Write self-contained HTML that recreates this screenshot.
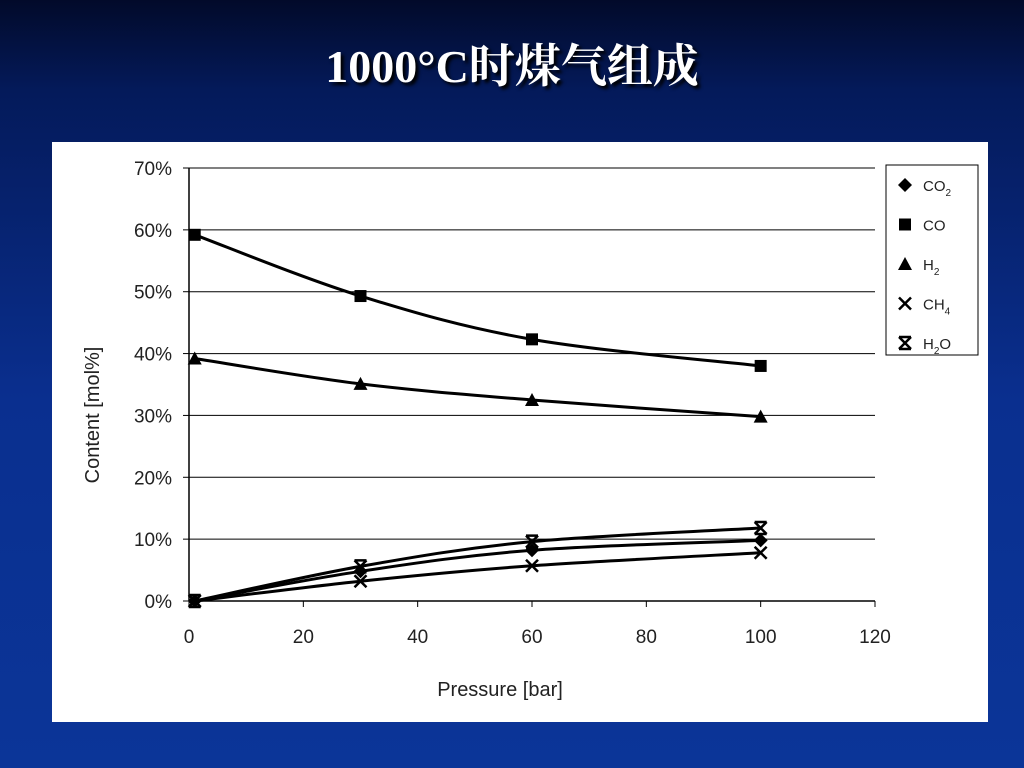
<!DOCTYPE html>
<html><head><meta charset="utf-8">
<style>
html,body{margin:0;padding:0;width:1024px;height:768px;overflow:hidden}
body{background:linear-gradient(180deg,#020a2a 0px,#041a5a 90px,#0a2f8f 400px,#0b3598 768px);font-family:"Liberation Sans",sans-serif}
#title{position:absolute;left:0;top:30px;width:1024px;text-align:center;color:#fff;font:bold 46px "Liberation Serif","Noto Serif CJK SC",serif;text-shadow:3px 3px 3px #000}
#panel{position:absolute;left:52px;top:142px;width:936px;height:580px;background:#fff}
</style></head><body>
<div id="title">1000°C时煤气组成</div>
<div id="panel"></div>
<svg id="chart" width="1024" height="768" style="position:absolute;left:0;top:0"></svg>
<script>
const xs=[1,30,60,100];
const co2=[0,4.8,8.2,9.8];
const co=[59.2,49.3,42.3,38];
const h2=[39.2,35.1,32.5,29.8];
const ch4=[0,3.2,5.7,7.8];
const h2o=[0,5.6,9.6,11.8];
const yTicks=[0,10,20,30,40,50,60,70];
const xTicks=[0,20,40,60,80,100,120];
const NS="http://www.w3.org/2000/svg";
const svg=document.getElementById('chart');
const X=v=>189+v*(875-189)/120;
const Y=v=>601-v*(601-168)/70;
function mk(t,a,p){const e=document.createElementNS(NS,t);for(const k in a)e.setAttribute(k,a[k]);(p||svg).appendChild(e);return e;}
// grid
yTicks.forEach(t=>{
 const g=mk('line',{x1:189,x2:875,y1:Y(t),y2:Y(t),stroke:'#000','stroke-width':t===0?1.5:1});
 
 
 const l=mk('text',{x:172,y:Y(t)+7,'text-anchor':'end','font-size':19,fill:'#222'});l.textContent=t+'%';
 
 
 mk('line',{x1:183,x2:189,y1:Y(t),y2:Y(t),stroke:'#000'});
});
mk('line',{x1:189,x2:189,y1:168,y2:601,stroke:'#000','stroke-width':1.5});
xTicks.forEach(t=>{
 mk('line',{x1:X(t),x2:X(t),y1:601,y2:607,stroke:'#000'});
 const l=mk('text',{x:X(t),y:643,'text-anchor':'middle','font-size':19,fill:'#222'});l.textContent=t;
 
 
});
let t=mk('text',{x:500,y:696,'text-anchor':'middle','font-size':20,fill:'#222'});t.textContent='Pressure [bar]';

t=mk('text',{x:0,y:0,'text-anchor':'middle','font-size':20,fill:'#222',transform:'translate(99,415) rotate(-90)'});t.textContent='Content [mol%]';

function curve(vals){
 const p=vals.map((v,i)=>[X(xs[i]),Y(v)]);
 let d='M'+p[0][0]+','+p[0][1];
 for(let i=0;i<p.length-1;i++){
  const p0=p[Math.max(0,i-1)],p1=p[i],p2=p[i+1],p3=p[Math.min(p.length-1,i+2)];
  const c1=[p1[0]+(p2[0]-p0[0])/6,p1[1]+(p2[1]-p0[1])/6],c2=[p2[0]-(p3[0]-p1[0])/6,p2[1]-(p3[1]-p1[1])/6];
  d+=` C${c1} ${c2} ${p2}`;
 }
 return d;
}
function marker(type,x,y,g){
 if(type==='d')mk('polygon',{points:`${x},${y-7} ${x+7},${y} ${x},${y+7} ${x-7},${y}`,fill:'#000'},g);
 else if(type==='s')mk('rect',{x:x-6,y:y-6,width:12,height:12,fill:'#000'},g);
 else if(type==='t')mk('polygon',{points:`${x},${y-7} ${x+7},${y+6} ${x-7},${y+6}`,fill:'#000'},g);
 else if(type==='x'){mk('path',{d:`M${x-6},${y-6}L${x+6},${y+6}M${x+6},${y-6}L${x-6},${y+6}`,stroke:'#000','stroke-width':2.5},g);}
 else {mk('path',{d:`M${x-6},${y-6}L${x+6},${y+6}M${x+6},${y-6}L${x-6},${y+6}M${x-6},${y-6}H${x+6}M${x-6},${y+6}H${x+6}`,stroke:'#000','stroke-width':2.5},g);}
}
const series=[['co2',co2,'d'],['co',co,'s'],['h2',h2,'t'],['ch4',ch4,'x'],['h2o',h2o,'a']];
series.forEach(([n,vals,m])=>{
 const g=mk('g',{});
 
 
 mk('path',{d:curve(vals),fill:'none',stroke:'#000','stroke-width':3},g);
 vals.forEach((v,i)=>marker(m,X(xs[i]),Y(v),g));
});
// legend
const lg=mk('g',{});


mk('rect',{x:886,y:165,width:92,height:190,fill:'#fff',stroke:'#000','stroke-width':1},lg);
const labels=[['CO','2'],['CO',''],['H','2'],['CH','4'],['H','2','O']];
series.forEach(([n,vals,m],i)=>{
 const y=185+i*39.5;
 marker(m,905,y,lg);
 const tx=mk('text',{x:923,y:y+6,'font-size':15,fill:'#222'},lg);
 
 
 const L=labels[i];
 let s=document.createElementNS(NS,'tspan');s.textContent=L[0];tx.appendChild(s);
 if(L[1]){s=document.createElementNS(NS,'tspan');s.setAttribute('font-size',10);s.setAttribute('dy',5);s.textContent=L[1];tx.appendChild(s);}
 if(L[2]){s=document.createElementNS(NS,'tspan');s.setAttribute('dy',-5);s.textContent=L[2];tx.appendChild(s);}
});
</script>
</body></html>
